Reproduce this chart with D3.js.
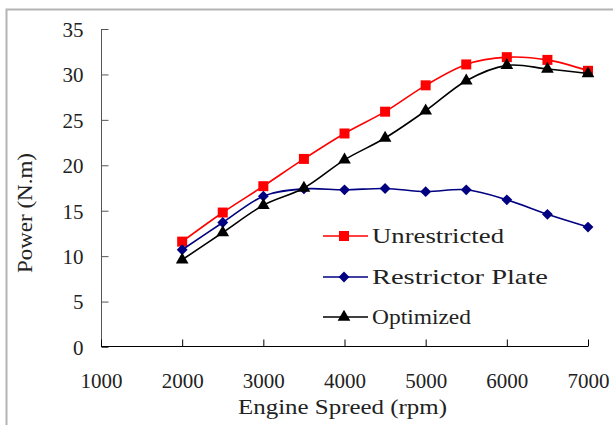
<!DOCTYPE html>
<html>
<head>
<meta charset="utf-8">
<title>Engine power</title>
<script src="https://cdn.jsdelivr.net/npm/d3@7"></script>
<style>
    body { margin: 0; background: #fff; }
    text { font-family: "Liberation Serif", serif; fill: #222; }
</style>
</head>
<body>
<div id="chart"></div>
<script>
// engine speed (rpm)
var speeds = [2000, 2500, 3000, 3500, 4000, 4500, 5000, 5500, 6000, 6500, 7000];

// power values
var unrestricted = [11.6, 14.8, 17.7, 20.7, 23.5, 25.9, 28.8, 31.1, 31.9, 31.6, 30.4];
var restrictor   = [10.7, 13.7, 16.6, 17.4, 17.3, 17.45, 17.1, 17.3, 16.2, 14.6, 13.2];
var optimized    = [9.6, 12.6, 15.6, 17.5, 20.6, 23.0, 26.0, 29.3, 31.0, 30.6, 30.1];

var seriesNames = ["Unrestricted", "Restrictor Plate", "Optimized"];
var xTicks = [1000, 2000, 3000, 4000, 5000, 6000, 7000];
var yTicks = [0, 5, 10, 15, 20, 25, 30, 35];

var width = 613, height = 425;

var svg = d3.select("#chart").append("svg")
    .attr("width", width)
    .attr("height", height);

// chart frame
svg.append("rect")
    .attr("x", 6.5).attr("y", 9.5)
    .attr("width", 620).attr("height", 430)
    .attr("fill", "none")
    .attr("stroke", "#b4b4b4")
    .attr("stroke-width", 2);

var x = d3.scaleLinear().domain([1000, 7000]).range([101, 588]);
var y = d3.scaleLinear().domain([0, 35]).range([347, 29]);

// y axis (ticks point inward)
var yAxis = svg.append("g")
    .attr("transform", "translate(101.5,0)")
    .call(d3.axisRight(y).tickValues(yTicks).tickSize(7).tickFormat(d3.format("d")));
yAxis.select(".domain").attr("stroke", "#555").attr("d", "M0," + y(35) + "V" + y(0));
yAxis.selectAll(".tick line").attr("stroke", "#555");
yAxis.selectAll(".tick text")
    .attr("x", -18).attr("text-anchor", "end").attr("dy", "0.35em")
    .attr("textLength", function(d) { return String(d).length * 10.5; })
    .attr("lengthAdjust", "spacingAndGlyphs")
    .style("font-size", "21px");

// x axis (ticks point inward)
var xAxis = svg.append("g")
    .attr("transform", "translate(0,346.5)")
    .call(d3.axisTop(x).tickValues(xTicks).tickSize(7).tickFormat(d3.format("d")));
xAxis.select(".domain").attr("stroke", "#000").attr("d", "M" + x(1000) + ",0H" + x(7000));
xAxis.selectAll(".tick line").attr("stroke", "#000");
xAxis.selectAll(".tick text")
    .attr("y", 41).attr("dy", "0").attr("text-anchor", "middle")
    .attr("textLength", 42).attr("lengthAdjust", "spacingAndGlyphs")
    .style("font-size", "21px");

// axis titles
svg.append("text")
    .attr("x", 238).attr("y", 414)
    .attr("textLength", 209).attr("lengthAdjust", "spacingAndGlyphs")
    .style("font-size", "21px")
    .text("Engine Spreed (rpm)");

svg.append("text")
    .attr("transform", "translate(32,273) rotate(-90)")
    .attr("textLength", 120).attr("lengthAdjust", "spacingAndGlyphs")
    .style("font-size", "21px")
    .text("Power (N.m)");

var series = [
    { name: seriesNames[0], values: unrestricted, color: "#ff0000", symbol: d3.symbolSquare, size: 100 },
    { name: seriesNames[1], values: restrictor, color: "#000080", symbol: d3.symbolDiamond2, size: 75 },
    { name: seriesNames[2], values: optimized, color: "#000000", symbol: d3.symbolTriangle, size: 70 }
];

var line = d3.line()
    .x(function(d) { return x(d[0]); })
    .y(function(d) { return y(d[1]); })
    .curve(d3.curveCardinal.tension(0));

series.forEach(function(s) {
    var pts = speeds.map(function(v, i) { return [v, s.values[i]]; });
    svg.append("path")
        .datum(pts)
        .attr("d", line)
        .attr("fill", "none")
        .attr("stroke", s.color)
        .attr("stroke-width", 1.6);
    svg.selectAll(null)
        .data(pts)
        .enter()
        .append("path")
        .attr("d", d3.symbol().type(s.symbol).size(s.size))
        .attr("transform", function(d) { return "translate(" + x(d[0]) + "," + y(d[1]) + ")"; })
        .attr("fill", s.color);
});

// legend
var legendY = [236, 277, 317];
series.forEach(function(s, i) {
    var g = svg.append("g").attr("transform", "translate(323," + legendY[i] + ")");
    g.append("line")
        .attr("x1", 0).attr("x2", 45)
        .attr("stroke", s.color).attr("stroke-width", 1.6);
    g.append("path")
        .attr("d", d3.symbol().type(s.symbol).size(s.size))
        .attr("transform", "translate(21,0)")
        .attr("fill", s.color);
    g.append("text")
        .attr("x", 49).attr("dy", "0.35em")
        .attr("textLength", s.name.length * 11).attr("lengthAdjust", "spacingAndGlyphs")
        .style("font-size", "21px")
        .text(s.name);
});
</script>
</body>
</html>
